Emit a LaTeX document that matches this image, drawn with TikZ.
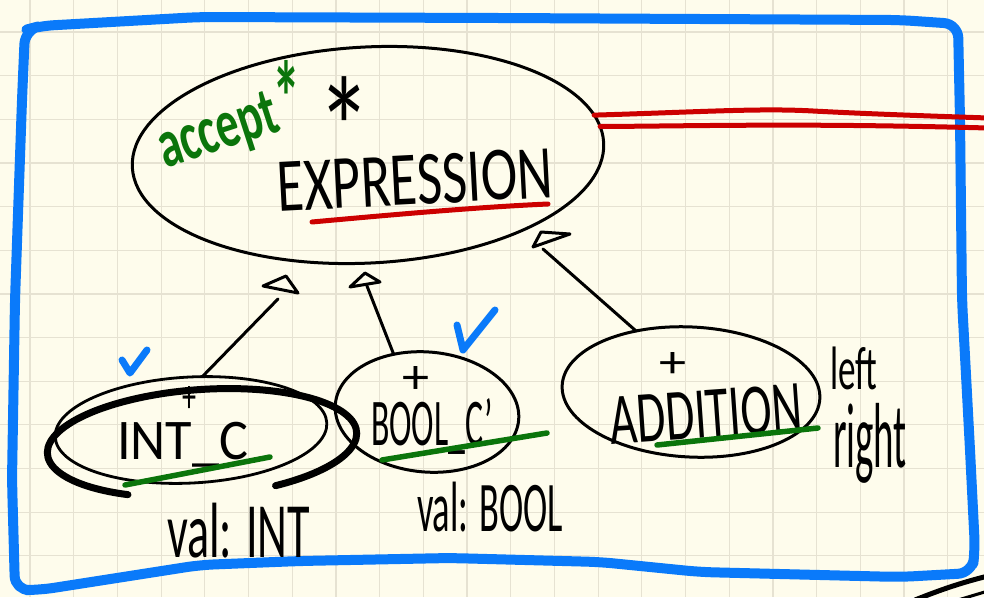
\documentclass[tikz,border=0pt]{standalone}
\usepackage{fontspec}
\setmainfont{Carlito}
\usepackage{graphicx}
\usetikzlibrary{shapes.geometric}
\definecolor{paper}{HTML}{FEFCEC}
\definecolor{gridc}{HTML}{E6E2D2}
\definecolor{penblue}{HTML}{0A7AFA}
\definecolor{penred}{HTML}{CC0000}
\definecolor{pengreen}{HTML}{0B750B}
\newcommand{\hwtext}[3]{\resizebox*{#1pt}{#2pt}{#3}}
\newcommand{\tightast}{\raisebox{-0.42em}[0.29em][0pt]{*}}
\begin{document}
\begin{tikzpicture}[x=1pt,y=-1pt,
  gridline/.style={draw=gridc, line width=1.2pt},
  ink/.style={draw=black, line width=3pt, line cap=round, line join=round},
  bubble/.style={ellipse, draw=black, line width=3pt, inner sep=0pt, outer sep=0pt},
  lbl/.style={inner sep=0pt, outer sep=0pt, text=black},
  headtri/.style={ink, fill=paper},
  uline/.style={line width=5.5pt, line cap=round},
  frame/.style={draw=penblue, line width=10pt, line cap=round, line join=round, rounded corners=14pt},
  check/.style={draw=penblue, line width=7pt, line cap=round, line join=round},
  redline/.style={draw=penred, line width=5pt, line cap=round}]
\useasboundingbox (0,0) rectangle (984,597);
\fill[paper] (0,0) rectangle (984,597);
\foreach \i in {0,...,21} \draw[gridline] ({30+43.7*\i},0) -- ({30+43.7*\i},597);
\foreach \j in {0,...,12} \draw[gridline] (0,{32+43.65*\j}) -- (984,{32+43.65*\j});

% blue frame
\draw[frame] (40,26) -- (200,17) -- (500,18) -- (900,20) -- (958,24) -- (960,120) -- (962,300) -- (970,450) -- (975,550) -- (972,573) -- (900,577) -- (700,572) -- (600,562) -- (450,558) -- (300,561) -- (200,565) -- (40,590) -- (15,590) -- (12,480) -- (15,300) -- (22,100) -- (25,30) -- cycle;

% main class
\node[bubble, minimum width=472pt, minimum height=216pt, rotate=3] (bigE) at (368,155) {};
\node[lbl, rotate=3] (exprT) at (415,180) {\hwtext{276}{50}{EXPRESSION}};
\node[lbl] (star) at (344,98) {\hwtext{54}{42}{\tightast}};
\node[lbl, text=pengreen, rotate=18] (acc) at (219,134) {\hwtext{124}{54}{\bfseries accept}};
\node[lbl, text=pengreen] (accstar) at (286,76) {\hwtext{28}{30}{\bfseries\tightast}};
\draw[redline] (312,222) .. controls (400,214) and (480,207) .. (548,204);

% red double line to the right
\coordinate (r1) at (988,118);
\coordinate (r2) at (988,128);

% subclasses
\node[bubble, minimum width=272pt, minimum height=106pt, rotate=3, line width=2.8pt] (intE) at (191,430) {};
\draw[line width=7pt, line cap=round, rotate around={4:(202,443)}] (272.4,490.7) arc[start angle=63, end angle=-240, x radius=155, y radius=53.5];
\node[lbl] (intP) at (189,399) {\hwtext{14}{26}{+}};
\node[lbl, anchor=north west] (intT) at (117,422) {\hwtext{131}{45}{INT\_C}};
\draw[uline, draw=pengreen] (125,485) -- (270,457);
\node[lbl, anchor=north west] (intV) at (167,503) {\hwtext{143}{55}{val: INT}};

\node[bubble, minimum width=184pt, minimum height=120pt, rotate=-5] (boolE) at (427,412) {};
\node[lbl] (boolP) at (416,380) {\hwtext{27}{27}{+}};
\node[lbl, anchor=north west] (boolT) at (371,398) {\hwtext{122}{56}{BOOL\_C'}};
\draw[uline, draw=pengreen] (382,460) -- (547,433);
\node[lbl, anchor=north west] (boolV) at (417,482) {\hwtext{146}{50}{val: BOOL}};

\node[bubble, minimum width=258pt, minimum height=130pt, rotate=-3] (addE) at (691,392) {};
\node[lbl] (addP) at (673,365) {\hwtext{27}{25}{+}};
\node[lbl, rotate=4] (addT) at (706,414) {\hwtext{193}{48}{ADDITION}};
\draw[uline, draw=pengreen] (657,445) -- (818,428);
\node[lbl, anchor=north west] (leftT) at (830,347) {\hwtext{47}{43}{left}};
\node[lbl, anchor=north west] (rightT) at (833,403) {\hwtext{74}{80}{right}};

% blue checks
\draw[check] (122,360) -- (130,373) -- (147,350);
\draw[check] (457,325) -- (463,350) -- (495,310);

% inheritance connectors with open heads
\coordinate (e1) at (278,299);
\coordinate (e2) at (367,286);
\coordinate (e3) at (543,249);
\draw[ink] (intE.75) -- (e1);
\draw[ink] (boolE.125) -- (e2);
\draw[ink] (addE.135) -- (e3);
\draw[headtri] (e1) ++(8,-23) -- ++(-23,10) -- ++(35,7) -- cycle;
\draw[headtri] (e2) ++(-2,-13) -- ++(-15,14) -- ++(30,-5) -- cycle;
\draw[headtri] (e3) ++(-10,-2) -- ++(8,-15) -- ++(29,2) -- cycle;

% red double line
\draw[redline] (bigE.7) .. controls (700,112) and (760,108) .. (813,111) .. controls (870,114) and (930,116) .. (r1);
\draw[redline] (bigE.4) .. controls (700,126) and (800,123) .. (r2);

% black stroke at bottom right
\draw[line width=5pt, line cap=round] (915,600) .. controls (940,590) and (960,583) .. (988,576);
\draw[line width=3pt, line cap=round] (958,600) -- (988,591);
\end{tikzpicture}
\end{document}
